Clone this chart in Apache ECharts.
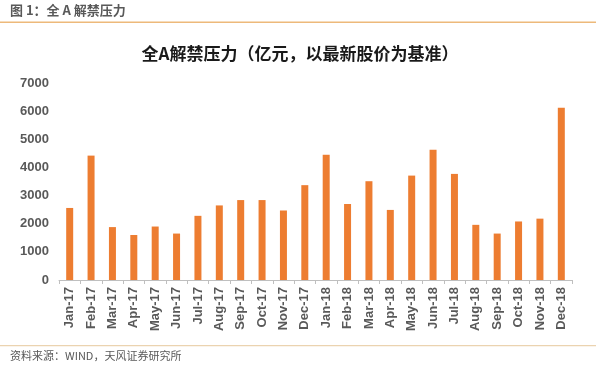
<!DOCTYPE html>
<html><head><meta charset="utf-8">
<script src="https://cdn.jsdelivr.net/npm/echarts@6/dist/echarts.min.js"></script>
<style>html,body{margin:0;padding:0;background:#fff;}#c{width:600px;height:368px;}</style>
</head><body><div id="c"></div>
<script>
const categories = ['Jan-17','Feb-17','Mar-17','Apr-17','May-17','Jun-17','Jul-17','Aug-17','Sep-17','Oct-17','Nov-17','Dec-17',
  'Jan-18','Feb-18','Mar-18','Apr-18','May-18','Jun-18','Jul-18','Aug-18','Sep-18','Oct-18','Nov-18','Dec-18'];
const values = [2560, 4420, 1880, 1600, 1900, 1650, 2280, 2650, 2840, 2840, 2470, 3370,
  4450, 2700, 3510, 2490, 3710, 4630, 3770, 1960, 1650, 2080, 2180, 6120];
const yTicks = [0, 1000, 2000, 3000, 4000, 5000, 6000, 7000];
const headerText = '图 1：全 A 解禁压力';
const titleText = '全A解禁压力（亿元，以最新股价为基准）';
const sourceText = '资料来源：WIND，天风证券研究所';

const chart = echarts.init(document.getElementById('c'), null, {renderer: 'canvas'});
chart.setOption({
  backgroundColor: '#fff',
  animation: false,
  title: {
    text: titleText, left: 'center', top: 40,
    textStyle: {fontFamily: '"Noto Sans CJK SC"', fontSize: 17, fontWeight: 'bold', color: '#1a1a1a'}
  },
  graphic: [
    {type: 'text', left: 10, top: 4, style: {text: headerText, fontFamily: '"Noto Sans CJK SC"', fontSize: 13, fontWeight: 'bold', fill: '#595959'}},
    {type: 'rect', shape: {x: 0, y: 21.5, width: 596, height: 1.5}, style: {fill: '#EDB97A'}},
    {type: 'rect', shape: {x: 0, y: 345, width: 596, height: 1.2}, style: {fill: '#EBD3B0'}},
    {type: 'text', left: 10, top: 350, style: {text: sourceText, fontFamily: '"Noto Sans CJK SC"', fontSize: 11, fill: '#595959'}}
  ],
  grid: {left: 59, right: 28, top: 83, bottom: 88},
  xAxis: {
    type: 'category', data: categories, boundaryGap: true,
    axisLine: {lineStyle: {color: '#BFBFBF', width: 1}},
    axisTick: {show: true, alignWithLabel: false, length: 4, lineStyle: {color: '#BFBFBF'}},
    axisLabel: {rotate: 90, interval: 0, margin: 7, color: '#595959', fontFamily: 'Liberation Sans', fontSize: 13, fontWeight: 'bold'}
  },
  yAxis: {
    type: 'value', min: yTicks[0], max: yTicks[yTicks.length - 1], interval: 1000,
    axisLine: {show: false}, axisTick: {show: false}, splitLine: {show: false},
    axisLabel: {margin: 10, color: '#595959', fontFamily: 'Liberation Sans', fontSize: 13, fontWeight: 'bold',
      formatter: function (v) { return String(v); }}
  },
  series: [{
    type: 'bar', data: values, barWidth: 7,
    itemStyle: {color: '#ED7D31'}
  }]
});
</script></body></html>
